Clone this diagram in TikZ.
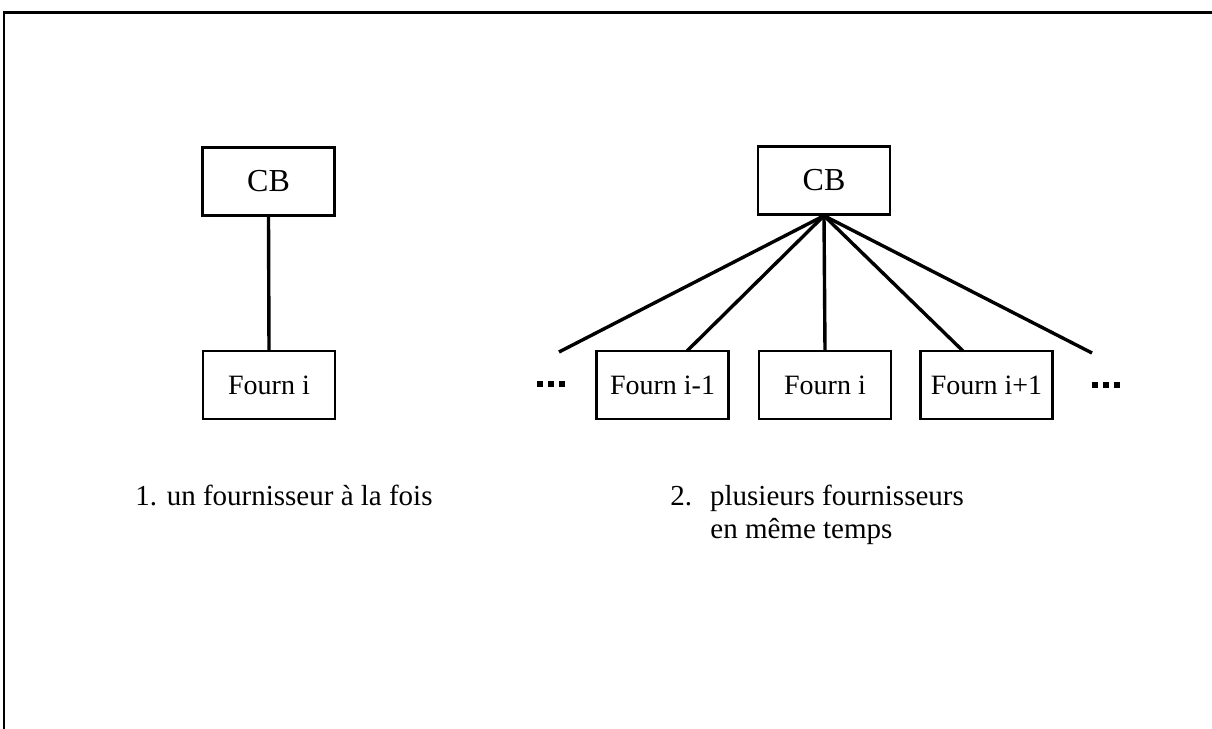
\documentclass[tikz,border=0pt]{standalone}
\usepackage{fontspec}
\setmainfont{Liberation Serif}
\newcommand{\sqdot}{\rule{3pt}{3pt}}
\begin{document}
\begin{tikzpicture}[x=0.5pt,y=-0.5pt,
  cbbox/.style={draw,line width=1.2pt,minimum width=66pt,minimum height=34pt,inner sep=0pt,font=\fontsize{16}{18}\selectfont},
  fbox/.style={draw,line width=1.2pt,minimum width=66pt,minimum height=34pt,inner sep=0pt,font=\fontsize{14}{16}\selectfont},
  link/.style={line width=1.7pt},
  lbl/.style={anchor=base west,inner sep=0pt,font=\fontsize{14.5}{17}\selectfont},
  dots/.style={inner sep=0pt}]
\useasboundingbox (0,0) rectangle (1212,729);
\coordinate (tl) at (4,12.5);
\coordinate (tr) at (1212,12.5);
\coordinate (bl) at (4,729);
\draw[line width=1.3pt] (tr) -- (tl) -- (bl);
% left diagram
\node[cbbox] (cbL) at (268.5,181.5) {CB};
\node[fbox] (fL) at (269,385) {Fourn i};
\draw[link] (cbL.south) -- (fL.north);
% right diagram
\node[cbbox] (cbR) at (824,180.5) {CB};
\node[fbox] (f1) at (662.5,385) {Fourn i-1};
\node[fbox] (f2) at (825,385) {Fourn i};
\node[fbox] (f3) at (986.5,385) {Fourn i+1};
\coordinate (eL) at (559,352);
\coordinate (eR) at (1092,353);
\coordinate (t1) at (687,351);
\coordinate (t3) at (963,351);
\draw[link] (cbR.south) -- (eL);
\draw[link] (cbR.south) -- (t1);
\draw[link] (cbR.south) -- (f2.north);
\draw[link] (cbR.south) -- (t3);
\draw[link] (cbR.south) -- (eR);
\node[dots] (dL) at (551,384) {\sqdot\hspace{2.5pt}\sqdot\hspace{2.5pt}\sqdot};
\node[dots] (dR) at (1106,385) {\sqdot\hspace{2.5pt}\sqdot\hspace{2.5pt}\sqdot};
% labels
\node[lbl] (l1) at (135,505) {1. un fournisseur à la fois};
\node[lbl] (l2) at (670,505) {2.\hspace{9pt}plusieurs fournisseurs};
\node[lbl] (l3) at (710,538) {en même temps};
\end{tikzpicture}
\end{document}
